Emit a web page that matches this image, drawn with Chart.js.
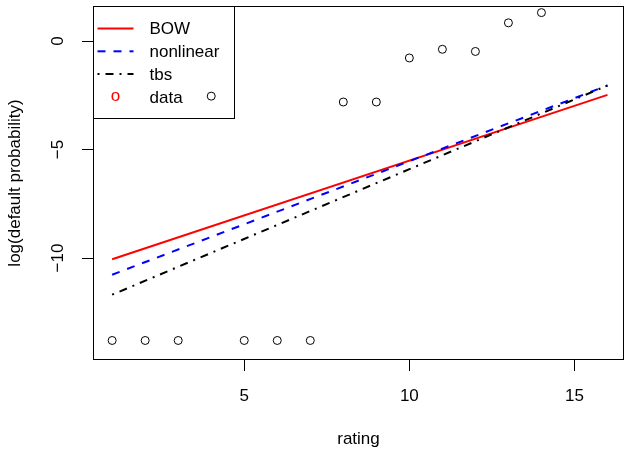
<!DOCTYPE html>
<html>
<head>
<meta charset="utf-8">
<title>rating vs log(default probability)</title>
<script src="https://cdn.jsdelivr.net/npm/chart.js@4/dist/chart.umd.min.js"></script>
<style>
    html, body { margin: 0; padding: 0; background: #fff; }
    canvas { display: block; }
</style>
</head>
<body>
<canvas id="graf-rating" width="625" height="450"></canvas>
<script>
// observed default rates per rating class (log scale)
var ratings = [1, 2, 3, 4, 5, 6, 7, 8, 9, 10, 11, 12, 13, 14]
var logPd = [-13.8, -13.8, -13.8, -2.54, -13.8, -13.8, -13.8, -2.81, -2.81, -0.78, -0.38, -0.48, 0.84, 1.31]

// fitted curves, evaluated at the ends of the rating range
var fitRatings = [1, 16]
var bowFit = [-10.06, -2.48]
var nonlinearFit = [-10.77, -2.05]
var tbsFit = [-11.69, -2.05]

// axis ticks
var xTicks = [5, 10, 15]
var yTicks = [-10, -5, 0]

// ordem das entradas na legenda
var ordemLegenda = ['BOW', 'nonlinear', 'tbs', 'data']

var fonte = '17px "Liberation Sans", Arial, Helvetica, sans-serif'

/**
 * @description: junta dois arrays em pontos {x,y}
 */
function pares(xs, ys){
    return xs.map(function(v, i){ return { x: v, y: ys[i] } })
}

/**
 * @description: caixa do gráfico, textos dos eixos e legenda (estilo R)
 */
var moldura = {
    id: 'moldura',
    afterDraw: function(chart){
        var ctx = chart.ctx
        var area = chart.chartArea
        var sx = chart.scales.x
        var sy = chart.scales.y

        ctx.save()
        ctx.strokeStyle = '#000'
        ctx.lineWidth = 1
        ctx.strokeRect(Math.round(area.left) + 0.5, Math.round(area.top) + 0.5,
            Math.round(area.right - area.left) - 1, Math.round(area.bottom - area.top) - 1)

        ctx.fillStyle = '#000'
        ctx.font = fonte
        ctx.textAlign = 'center'
        ctx.textBaseline = 'middle'

        // rótulos do eixo x
        xTicks.forEach(function(v){
            ctx.fillText(String(v), sx.getPixelForValue(v), 396)
        })
        ctx.fillText('rating', (area.left + area.right) / 2, 439)

        // rótulos do eixo y, girados como no R
        yTicks.forEach(function(v){
            ctx.save()
            ctx.translate(58, sy.getPixelForValue(v))
            ctx.rotate(-Math.PI / 2)
            ctx.fillText(String(v).replace('-', '\u2212'), 0, 0)
            ctx.restore()
        })
        ctx.save()
        ctx.translate(15, (area.top + area.bottom) / 2)
        ctx.rotate(-Math.PI / 2)
        ctx.fillText('log(default probability)', 0, 0)
        ctx.restore()

        // legenda
        var lx = Math.round(area.left) + 0.5
        var ly = Math.round(area.top) + 0.5
        ctx.strokeRect(lx, ly, 141, 112)

        ctx.textAlign = 'left'
        ordemLegenda.forEach(function(nome, i){
            var ds = chart.data.datasets.filter(function(d){ return d.label === nome })[0]
            var y = ly + 22 + i * 22.8
            if(ds.showLine){
                ctx.save()
                ctx.strokeStyle = ds.borderColor
                ctx.lineWidth = ds.borderWidth
                ctx.setLineDash(ds.borderDash || [])
                ctx.beginPath()
                ctx.moveTo(lx + 4, y)
                ctx.lineTo(lx + 40, y)
                ctx.stroke()
                ctx.restore()
            }else{
                ctx.save()
                ctx.fillStyle = 'red'
                ctx.textAlign = 'center'
                ctx.fillText('o', lx + 22, y - 1)
                ctx.restore()
            }
            ctx.fillText(ds.label, lx + 56, y + 1)
        })
        ctx.restore()
    }
}

/**
 * @description: gera o gráfico
 */
function gerarGrafico(){
    try{
        new Chart(
            document.getElementById('graf-rating').getContext('2d'),
            {
                type: 'scatter',
                data: {
                    datasets: [
                        {
                            label: 'tbs', type: 'line', showLine: true, data: pares(fitRatings, tbsFit),
                            borderColor: '#000', borderWidth: 2, borderDash: [2, 6, 8, 6], pointRadius: 0, fill: false
                        },
                        {
                            label: 'nonlinear', type: 'line', showLine: true, data: pares(fitRatings, nonlinearFit),
                            borderColor: '#0000ff', borderWidth: 2, borderDash: [8, 8], pointRadius: 0, fill: false
                        },
                        {
                            label: 'BOW', type: 'line', showLine: true, data: pares(fitRatings, bowFit),
                            borderColor: '#ff0000', borderWidth: 2, pointRadius: 0, fill: false
                        },
                        {
                            label: 'data', showLine: false, data: pares(ratings, logPd),
                            pointStyle: 'circle', pointRadius: 4, borderColor: '#000',
                            backgroundColor: 'rgba(0,0,0,0)', borderWidth: 1
                        }
                    ]
                },
                options: {
                    responsive: false,
                    devicePixelRatio: 1,
                    animation: false,
                    layout: { autoPadding: false, padding: { top: 6, right: 1, left: 0, bottom: 0 } },
                    plugins: {
                        legend: { display: false },
                        tooltip: { enabled: false }
                    },
                    scales: {
                        x: {
                            type: 'linear',
                            min: 0.42,
                            max: 16.5,
                            afterFit: function(s){ s.height = 90 },
                            afterBuildTicks: function(s){ s.ticks = xTicks.map(function(v){ return { value: v } }) },
                            ticks: { display: false },
                            border: { display: false },
                            grid: { drawOnChartArea: false, drawTicks: true, tickLength: 11, color: '#000', lineWidth: 1 }
                        },
                        y: {
                            type: 'linear',
                            min: -14.7,
                            max: 1.615,
                            afterFit: function(s){ s.width = 93 },
                            afterBuildTicks: function(s){ s.ticks = yTicks.map(function(v){ return { value: v } }) },
                            ticks: { display: false },
                            border: { display: false },
                            grid: { drawOnChartArea: false, drawTicks: true, tickLength: 11, color: '#000', lineWidth: 1 }
                        }
                    }
                },
                plugins: [moldura]
            }
        )
    }catch(e){ console.error(e) }
}

gerarGrafico()
</script>
</body>
</html>
